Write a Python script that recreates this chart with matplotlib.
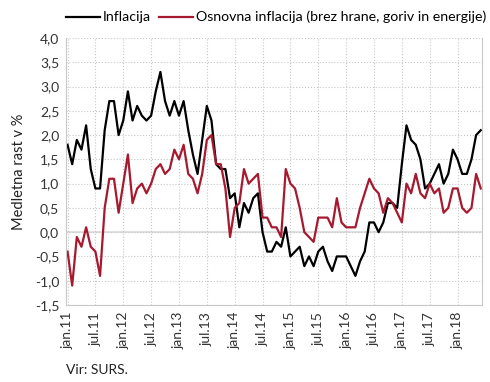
import numpy as np
import matplotlib.pyplot as plt
from matplotlib.ticker import FuncFormatter

plt.rcParams['font.family'] = ['Lato', 'DejaVu Sans']

# monthly, jan.11 .. jun.18
inflacija = [1.8, 1.4, 1.9, 1.7, 2.2, 1.3, 0.9, 0.9, 2.1, 2.7, 2.7, 2.0,
             2.3, 2.9, 2.3, 2.6, 2.4, 2.3, 2.4, 2.9, 3.3, 2.7, 2.4, 2.7,
             2.4, 2.7, 2.1, 1.6, 1.2, 1.9, 2.6, 2.3, 1.4, 1.3, 1.3, 0.7,
             0.8, 0.1, 0.6, 0.4, 0.7, 0.8, 0.0, -0.4, -0.4, -0.2, -0.3, 0.1,
             -0.5, -0.4, -0.3, -0.7, -0.5, -0.7, -0.4, -0.3, -0.6, -0.8, -0.5, -0.5,
             -0.5, -0.7, -0.9, -0.6, -0.4, 0.2, 0.2, 0.0, 0.2, 0.6, 0.6, 0.5,
             1.4, 2.2, 1.9, 1.8, 1.5, 0.9, 1.0, 1.2, 1.4, 1.0, 1.2, 1.7,
             1.5, 1.2, 1.2, 1.5, 2.0, 2.1]
osnovna = [-0.4, -1.1, -0.1, -0.3, 0.1, -0.3, -0.4, -0.9, 0.5, 1.1, 1.1, 0.4,
           1.0, 1.6, 0.6, 0.9, 1.0, 0.8, 1.0, 1.3, 1.4, 1.2, 1.3, 1.7,
           1.5, 1.8, 1.2, 1.1, 0.8, 1.2, 1.9, 2.0, 1.4, 1.4, 0.9, -0.1,
           0.5, 0.6, 1.3, 1.0, 1.1, 1.2, 0.3, 0.3, 0.1, 0.1, -0.1, 1.3,
           1.0, 0.9, 0.5, 0.0, -0.1, -0.2, 0.3, 0.3, 0.3, 0.1, 0.7, 0.2,
           0.1, 0.1, 0.1, 0.5, 0.8, 1.1, 0.9, 0.8, 0.4, 0.7, 0.6, 0.4,
           0.2, 1.0, 0.8, 1.2, 0.8, 0.7, 1.0, 0.8, 0.9, 0.4, 0.5, 0.9,
           0.9, 0.5, 0.4, 0.5, 1.2, 0.9]
tick_labels = ['jan.11', 'jul.11', 'jan.12', 'jul.12', 'jan.13', 'jul.13', 'jan.14', 'jul.14',
               'jan.15', 'jul.15', 'jan.16', 'jul.16', 'jan.17', 'jul.17', 'jan.18']

x = np.arange(len(inflacija))

fig = plt.figure(figsize=(4.9, 3.82), dpi=100)
ax = fig.add_axes([0.135, 0.2016, 0.849, 0.699])

ax.plot(x, inflacija, color='black', lw=1.6, label='Inflacija')
ax.plot(x, osnovna, color='#A6192E', lw=1.6, label='Osnovna inflacija (brez hrane, goriv in energije)')

ax.set_xlim(-0.3, 89.3)
ax.set_ylim(-1.5, 4.0)
ax.set_yticks(np.arange(-1.5, 4.01, 0.5))
ax.yaxis.set_major_formatter(FuncFormatter(lambda v, p: ('%.1f' % v).replace('.', ',')))
ax.set_xticks(np.arange(0, 85, 6))
ax.set_xticklabels(tick_labels, rotation=90)
ax.tick_params(length=0, labelsize=10, colors='#333333', pad=5)

ax.grid(True, color='#c8c8c8', ls=':', lw=0.8)
ax.axhline(0, color='#e0e0e0', lw=1.5, zorder=0)
for s in ax.spines.values():
    s.set_color('#c8c8c8')
    s.set_linewidth(0.8)
ax.spines['top'].set_visible(False)

ax.set_ylabel('Medletna rast v %', fontsize=10.5, color='#222222', labelpad=6)

fig.legend(loc='center', bbox_to_anchor=(0.563, 0.955), ncol=2, frameon=False,
           fontsize=10.2, handlelength=2.4, handletextpad=0.2, columnspacing=0.6)
fig.text(0.135, 1 - 370 / 382, 'Vir: SURS.', fontsize=10, color='#222222', va='center')

fig.savefig('out.png', dpi=100)
